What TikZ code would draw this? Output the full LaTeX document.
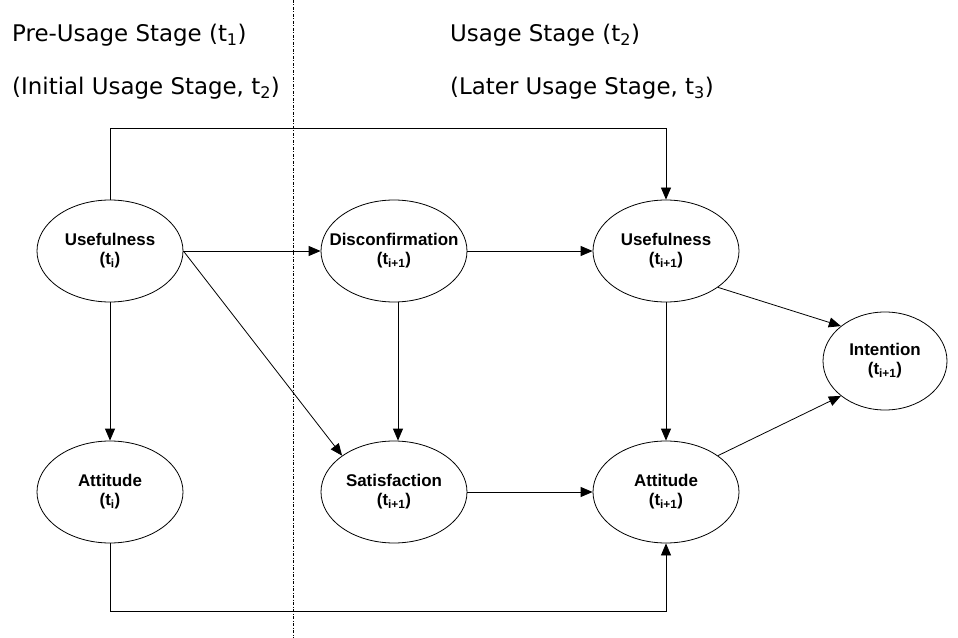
\documentclass[tikz,border=0pt]{standalone}
\usepackage{fontspec}
\setmainfont{DejaVu Sans}
\newfontfamily\nodefont{Liberation Sans}
\usetikzlibrary{shapes.geometric,arrows.meta}
\begin{document}
\begin{tikzpicture}[x=1bp,y=-1bp,
  ell/.style={ellipse,draw,line width=0.8bp,minimum width=146bp,minimum height=102bp,inner xsep=-16bp,inner ysep=0pt,align=center,font=\nodefont\bfseries\fontsize{17}{19}\selectfont},
  hdr/.style={anchor=west,inner sep=0pt,font=\fontsize{23}{26}\selectfont},
  arr/.style={line width=0.8bp,-{Triangle[length=12bp,width=10bp]}}]
\useasboundingbox (0,0) rectangle (958,638);
\fill[white] (0,0) rectangle (958,638);
% divider
\draw[line width=0.7bp,dash pattern=on 3bp off 1.5bp on 1bp off 1.5bp] (293,0) -- (293,638);
% headers
\node[hdr] (h1) at (12,35) {Pre-Usage Stage (t\textsubscript{1})};
\node[hdr] (h2) at (12,88) {(Initial Usage Stage, t\textsubscript{2})};
\node[hdr] (h3) at (450,35) {Usage Stage (t\textsubscript{2})};
\node[hdr] (h4) at (450,88) {(Later Usage Stage, t\textsubscript{3})};
% nodes
\node[ell] (u1) at (110,251) {Usefulness\\(t\textsubscript{i})};
\node[ell] (d) at (394,251) {Disconfirmation\\(t\textsubscript{i+1})};
\node[ell] (u2) at (666,251) {Usefulness\\(t\textsubscript{i+1})};
\node[ell,minimum width=124bp,minimum height=98bp] (int) at (885,361) {Intention\\(t\textsubscript{i+1})};
\node[ell] (a1) at (110,492) {Attitude\\(t\textsubscript{i})};
\node[ell] (s) at (394,492) {Satisfaction\\(t\textsubscript{i+1})};
\node[ell] (a2) at (666,492) {Attitude\\(t\textsubscript{i+1})};
\coordinate (c1) at (110,128);
\coordinate (c2) at (666,128);
\coordinate (c3) at (110,611);
\coordinate (c4) at (666,611);
% connectors
\draw[arr] (u1.north) -- (c1) -- (c2) -- (u2.north);
\draw[arr] (u1.east) -- (d.west);
\draw[arr] (u1.east) -- (s.north west);
\draw[arr] (u1.south) -- (a1.north);
\draw[arr] (d.east) -- (u2.west);
\draw[arr] ([xshift=4bp]d.south) -- ([xshift=4bp]s.north);
\draw[arr] (s.east) -- (a2.west);
\draw[arr] (u2.south) -- (a2.north);
\draw[arr] (u2.south east) -- (int.north west);
\draw[arr] (a2.north east) -- (int.south west);
\draw[arr] (a1.south) -- (c3) -- (c4) -- (a2.south);
\end{tikzpicture}
\end{document}
